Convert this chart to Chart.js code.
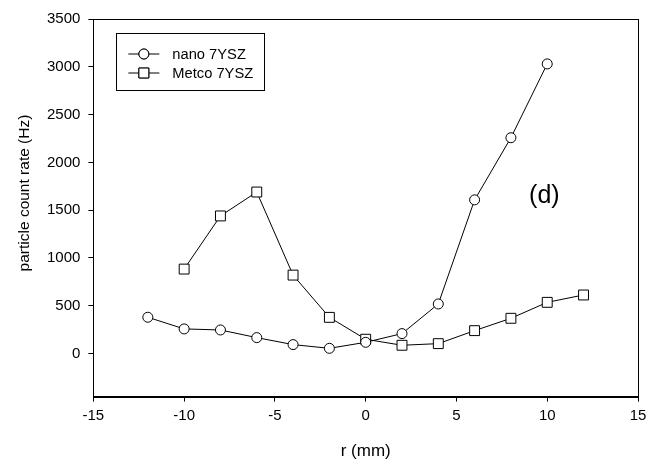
<!DOCTYPE html>
<html>
<head>
<meta charset="utf-8">
<script src="https://cdn.jsdelivr.net/npm/chart.js@4"></script>
<style>
  html, body { margin: 0; padding: 0; background: #fff; }
  #wrap { width: 660px; height: 464px; }
</style>
</head>
<body>
<div id="wrap"><canvas id="chart"></canvas></div>
<script>
// data
const rNano = [-12, -10, -8, -6, -4, -2, 0, 2, 4, 6, 8, 10];
const rateNano = [380, 258, 247, 167, 94, 55, 118, 209, 519, 1608, 2258, 3030];
const rMetco = [-10, -8, -6, -4, -2, 0, 2, 4, 6, 8, 10, 12];
const rateMetco = [884, 1440, 1690, 821, 379, 150, 87, 104, 240, 369, 536, 613];
const seriesNames = ['nano 7YSZ', 'Metco 7YSZ'];
const xTicks = [-15, -10, -5, 0, 5, 10, 15];
const yTicks = [0, 500, 1000, 1500, 2000, 2500, 3000, 3500];
const yTitle = 'particle count rate (Hz)';
const panelLabel = '(d)';

const FONT = 'Arial, "Liberation Sans", sans-serif';

const toPoints = (xs, ys) => xs.map((x, i) => ({ x, y: ys[i] }));

// frame, legend, y title (sits above centre in the original) and panel tag
const extras = {
  id: 'extras',
  afterDraw(chart) {
    const { ctx, chartArea: a } = chart;
    ctx.save();
    ctx.strokeStyle = '#000';
    ctx.lineWidth = 1;
    ctx.strokeRect(Math.round(a.left) + 0.5, Math.round(a.top) + 0.5,
      Math.round(a.right - a.left), Math.round(a.bottom - a.top));

    // legend box
    const bx = a.left + 23, by = a.top + 14;
    ctx.strokeRect(Math.round(bx) + 0.5, Math.round(by) + 0.5, 148, 57);
    ctx.font = '14.7px ' + FONT;
    ctx.textBaseline = 'middle';
    ctx.fillStyle = '#000';
    chart.data.datasets.forEach((ds, i) => {
      const ly = by + 21 + i * 19;
      ctx.beginPath();
      ctx.moveTo(bx + 12, ly);
      ctx.lineTo(bx + 43, ly);
      ctx.stroke();
      Chart.helpers.drawPoint(ctx, {
        pointStyle: ds.pointStyle,
        radius: ds.pointRadius,
        borderWidth: 1
      }, bx + 27.5, ly);
      ctx.fillStyle = '#fff';
      ctx.fill();
      ctx.stroke();
      ctx.fillStyle = '#000';
      ctx.fillText(ds.label, bx + 56, ly + 1);
    });

    ctx.font = '25px ' + FONT;
    ctx.textAlign = 'center';
    ctx.fillText(panelLabel, a.left + 451, a.top + 177);

    ctx.font = '15.5px ' + FONT;
    ctx.translate(25, a.top + 174);
    ctx.rotate(-Math.PI / 2);
    ctx.fillText(yTitle, 0, 0);
    ctx.restore();
  }
};

const lineStyle = {
  showLine: true,
  borderColor: '#000',
  borderWidth: 1,
  pointBackgroundColor: '#fff',
  pointBorderColor: '#000',
  pointBorderWidth: 1
};

new Chart(document.getElementById('chart'), {
  type: 'scatter',
  data: {
    datasets: [
      { ...lineStyle, label: seriesNames[0], data: toPoints(rNano, rateNano), pointStyle: 'circle', pointRadius: 5 },
      { ...lineStyle, label: seriesNames[1], data: toPoints(rMetco, rateMetco), pointStyle: 'rect', pointRadius: 7 }
    ]
  },
  options: {
    responsive: true, maintainAspectRatio: false, animation: false,
    layout: { padding: { top: 19, right: 22, bottom: 0, left: 39 } },
    plugins: { legend: { display: false }, tooltip: { enabled: false } },
    scales: {
      x: {
        type: 'linear', min: -15, max: 15,
        afterBuildTicks: s => { s.ticks = xTicks.map(v => ({ value: v })); },
        ticks: { color: '#000', font: { family: FONT, size: 15 }, padding: 5, maxRotation: 0, callback: v => String(v) },
        grid: { drawOnChartArea: false, drawTicks: true, tickLength: 5, color: '#000' },
        border: { display: true, color: '#000', width: 1 },
        title: { display: true, text: 'r (mm)', color: '#000', font: { family: FONT, size: 17 }, padding: { top: 12, bottom: 2 } }
      },
      y: {
        type: 'linear', min: -450, max: 3500,
        afterBuildTicks: s => { s.ticks = yTicks.map(v => ({ value: v })); },
        ticks: { color: '#000', font: { family: FONT, size: 15 }, padding: 8, callback: v => String(v) },
        grid: { drawOnChartArea: false, drawTicks: true, tickLength: 5, color: '#000' },
        border: { display: true, color: '#000', width: 1 }
      }
    }
  },
  plugins: [extras]
});
</script>
</body>
</html>
